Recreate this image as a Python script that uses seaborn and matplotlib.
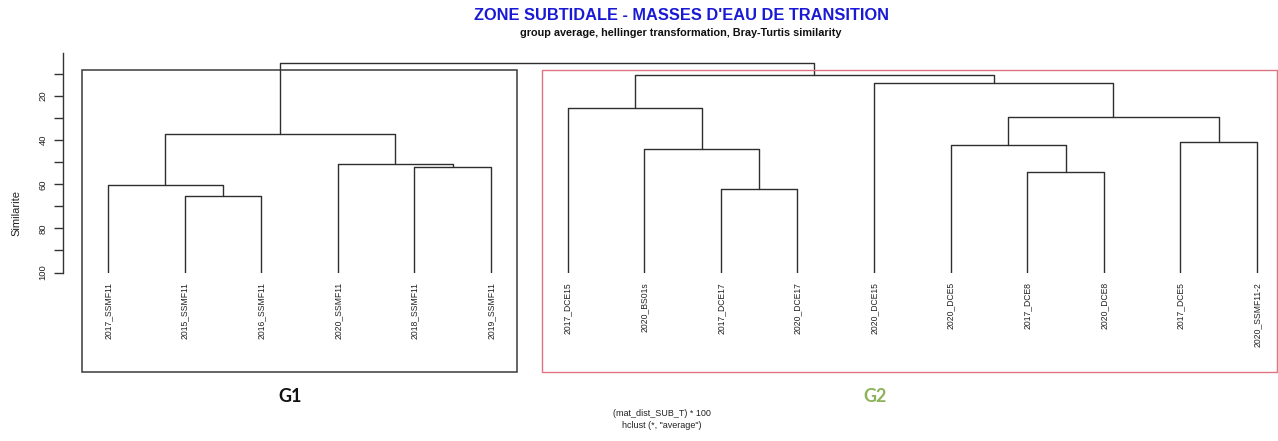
import matplotlib
matplotlib.use("Agg")
import matplotlib.pyplot as plt
import seaborn as sns
import pandas as pd
from matplotlib.patches import Rectangle

# Station/year labels in dendrogram order (left to right)
leaves = [
    "2017_SSMF11", "2015_SSMF11", "2016_SSMF11", "2020_SSMF11", "2018_SSMF11",
    "2019_SSMF11", "2017_DCE15", "2020_BS01s", "2017_DCE17", "2020_DCE17",
    "2020_DCE15", "2020_DCE5", "2017_DCE8", "2020_DCE8", "2017_DCE5",
    "2020_SSMF11-2",
]

# hclust-style merge table: negative = leaf number (1-based, in leaf order),
# positive = an earlier merge step (1-based)
merge_left = [-2, -1, -5, -4, 2, -9, -8, -7, -13, -12, -15, 10, -11, 8, 5]
merge_right = [-3, 1, -6, 3, 4, -10, 6, 7, -14, 9, -16, 11, 12, 13, 14]
# Bray-Curtis similarity (%) at which each merge happens
merge_similarity = [65.5, 60.1, 52.1, 50.9, 37.1, 62.1, 44.1, 25.3,
                    54.2, 42.1, 40.8, 29.7, 14.2, 10.6, 5.1]
leaf_similarity = 100.0

y_ticks = [10, 20, 30, 40, 50, 60, 70, 80, 90, 100]
y_ticklabels = ["", "20", "", "40", "", "60", "", "80", "", "100"]

sns.set_style("ticks")
plt.rcParams["font.family"] = ["Liberation Sans", "DejaVu Sans"]

W, H = 1278, 441
fig = plt.figure(figsize=(W / 100, H / 100), dpi=100)
fig.patch.set_facecolor("white")

# plotting region: similarity 0 at y=52px, 100 at y=272.5px
ax = fig.add_axes([62.7 / W, (H - 272.5) / H, (1277 - 62.7) / W, (272.5 - 52.0) / H])
ax.set_facecolor("white")

# build the dendrogram segments
pos = {}
height = {}
for i in range(len(leaves)):
    pos[-(i + 1)] = i + 1
    height[-(i + 1)] = leaf_similarity

rows = []
for k, (l, r, h) in enumerate(zip(merge_left, merge_right, merge_similarity), start=1):
    xl, xr = pos[l], pos[r]
    hl, hr = height[l], height[r]
    for px, py in [(xl, hl), (xl, h), (xr, h), (xr, hr)]:
        rows.append({"x": px, "y": py, "seg": k})
    pos[k] = (xl + xr) / 2.0
    height[k] = h
seg_df = pd.DataFrame(rows)

sns.lineplot(data=seg_df, x="x", y="y", units="seg", estimator=None, sort=False,
             color="#2e2e2e", linewidth=1.0, ax=ax)

ax.set_xlim(0.4086, 16.2611)
ax.set_ylim(100, 0)
ax.set_xlabel("")
ax.set_ylabel("")

for s in ["top", "right", "bottom"]:
    ax.spines[s].set_visible(False)
ax.spines["left"].set_bounds(0.3, 100)
ax.spines["left"].set_color("#333333")
ax.spines["left"].set_linewidth(1.0)

ax.set_yticks(y_ticks)
ax.set_yticklabels(y_ticklabels, rotation=90, va="center", fontsize=6.8, color="#222222")
ax.tick_params(axis="y", length=6.5, width=1.0, color="#333333", pad=4.5, left=True)

ax.set_xticks(range(1, len(leaves) + 1))
ax.set_xticklabels(leaves, rotation=90, ha="center", va="top", fontsize=6.2, color="#222222")
ax.tick_params(axis="x", length=0, pad=7, bottom=True)

# group frames
def frame(x0, y0, x1, y1, color, lw):
    fig.add_artist(Rectangle((x0 / W, 1 - y1 / H), (x1 - x0) / W, (y1 - y0) / H,
                             transform=fig.transFigure, fill=False,
                             edgecolor=color, linewidth=lw, clip_on=False))

frame(82.3, 70, 516.7, 371.7, "#3a3a3a", 1.1)
frame(541.7, 70, 1277.2, 372.3, "#e07282", 1.0)

fig.text(290 / W, 1 - 396 / H, "G1", ha="center", va="center", fontsize=13,
         fontweight="bold", color="#111111", family=["Lato", "DejaVu Sans"])
fig.text(875 / W, 1 - 396 / H, "G2", ha="center", va="center", fontsize=13,
         fontweight="bold", color="#8db35a", family=["Lato", "DejaVu Sans"])

fig.text(681 / W, 1 - 16 / H, "ZONE SUBTIDALE - MASSES D'EAU DE TRANSITION",
         ha="center", va="center", fontsize=11.8, fontweight="bold", color="#1a1ad6")
fig.text(681 / W, 1 - 32.5 / H,
         "group average, hellinger transformation, Bray-Turtis similarity",
         ha="center", va="center", fontsize=7.8, fontweight="bold", color="#111111")

fig.text(16 / W, 1 - 213 / H, "Similarite", rotation=90, ha="center", va="center",
         fontsize=8, color="#222222")

fig.text(662 / W, 1 - 413 / H, "(mat_dist_SUB_T) * 100", ha="center", va="center",
         fontsize=6.5, color="#222222")
fig.text(662 / W, 1 - 425 / H, 'hclust (*, "average")', ha="center", va="center",
         fontsize=6.5, color="#222222")

fig.savefig("out.png", dpi=100, facecolor="white")
